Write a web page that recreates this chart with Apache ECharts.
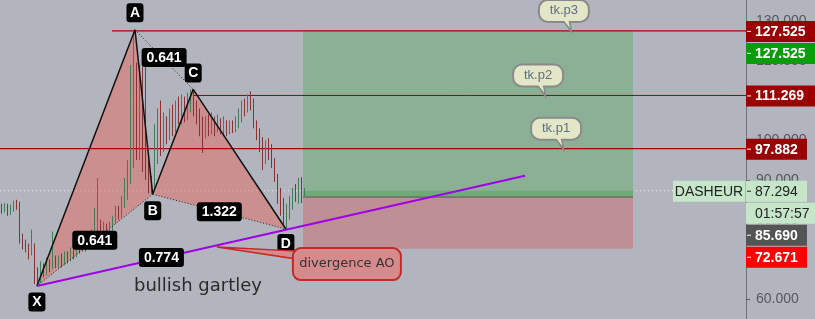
<!DOCTYPE html>
<html><head><meta charset="utf-8">
<script src="https://cdn.jsdelivr.net/npm/echarts@6/dist/echarts.min.js"></script>
<style>html,body{margin:0;padding:0;background:#b2b5be;}#c{width:815px;height:319px;}</style>
</head><body><div id="c"></div>
<script>
// ---------- DATA ----------
const opens  = [83,82.5,83.5,82,83,84,83.8,75.5,74.2,73,72,73.5,66,64.5,68,66.5,69,68,70,68.5,70,69,71,70,72,71,73,72.5,74,73,76,75,78,79,77,78,76.5,78,79.5,82,81,84,86,92,96,110,100,104,96,93,88,89,96,102,99,103,101,105,103,107,106,108,106,109,111,108,107,104,102,104,103,105,103.5,104.5,103,104,102.5,104,103,105,107,108.5,108,110,109,104,102,99,95,98,97,94,91,86,83,81,82,85,87,86,88,86.5];
const closes = [82.5,83.5,82,83,84,83.2,75.5,74.2,73,72,73.5,66,64.5,68,66.5,69,68,70,68.5,70,69,71,70,72,71,73,72.5,74,73,76,75,78,79,77,78,76.5,78,79.5,82,81,84,86,92,96,110,100,104,96,93,88,89,96,102,99,103,101,105,103,107,106,108,106,109,111,108,107,104,102,104,103,105,103.5,104.5,103,104,102.5,104,103,105,107,108.5,108,110,109,104,102,99,95,98,97,94,91,86,83,81,82,85,87,86,88,86.5,87.294];
const lows   = [81.5,81.8,81,81.2,82,82.5,74,72.5,71.8,70,71,63.8,63.3,64,65.5,66,66.8,67.5,67.8,67.8,68,68.5,69,69.5,70,70.5,71.5,72,72,72.5,74,74.5,76,76,75.5,75.5,76,77,79,80,80.5,83,85,89,93,95,95,92,90,86.6,86.4,88,94,96,97,99,100,101,102,104,104,104.5,105,107,106,104,101,96.8,100.5,101,101.5,101,102,101.5,101.5,101,101.5,101.8,102,103,104.5,106,107,107.5,103,100,97,92.5,94,95,93,89.5,84,81,78.5,77.6,80,82.5,84.5,84,84.2,86];
const highs  = [84,84.2,84,83.8,84.8,85,84.5,76.5,75,74,77.5,74,68,69.5,69,70.5,70,77,71,71,71.5,72,72,73,73.5,74,74.5,75,75.5,77,77.5,83,90.5,80,79.5,79,79.5,81,83.5,83.5,86,90.5,95,118.9,127.8,119.5,119,118.5,119.7,95,91,104,108,110,107,106,108,109,110,111,111.5,111,112,112.8,112.4,110,108,106,106,106.5,107,106,106.5,105.5,106,105,105,105,106,108,110,110.5,111.5,112.3,110.5,105,103,100.8,100,100.5,99,95.5,91.5,88,85.5,84,86,88,89,90.5,90.7,88];

const pointNames  = ['X','A','B','C','D'];
const pointBar    = [11.8, 44.5, 50.4, 63.9, 94.8];
const pointPrice  = [63.3, 127.8, 86.4, 112.8, 77.65];
const ratioText   = ['0.641','0.641','1.322','0.774'];   // XB, AC, BD, XD
const ratioPairs  = [[0,2],[1,3],[2,4],[0,4]];
const trendEnd    = [174.5, 91.07];

const levelPrices = [127.525, 111.269, 97.882];
const levelStart  = [36.8, 63.9, -0.5];
const lastPrice   = 87.294;
const entryPrice  = 85.690;
const stopPrice   = 72.671;
const targetPrice = 127.525;
const boxBars     = [100.5, 210.5];

const bubbleText  = ['tk.p3','tk.p2','tk.p1'];
const bubbleBar   = [189.8, 181.2, 187.2];
const bubblePrice = [127.525, 111.269, 97.882];

const noteText    = 'divergence AO';
const noteAnchor  = [71.8, 73.1];
const titleText   = 'bullish gartley';
const titleAt     = [65.5, 63.2];

const symbolName  = 'DASHEUR';
const countdown   = '01:57:57';
const tagValues   = [127.525, 127.525, 111.269, 97.882, 87.294, null, 85.690, 72.671];
const tagTexts    = ['127.525','127.525','111.269','97.882','87.294',countdown,'85.690','72.671'];

// ---------- CHART ----------
const chart = echarts.init(document.getElementById('c'), null, {renderer:'canvas'});
const candleData = opens.map((o,i)=>[i, o, closes[i], lows[i], highs[i]]);
const xMax = 746/3 - 0.5;

const rects = [
  [boxBars[0], boxBars[1], entryPrice, targetPrice],
  [boxBars[0], boxBars[1], stopPrice, entryPrice],
  [boxBars[0], boxBars[1], entryPrice, lastPrice]
];
const rectColors = ['#8bb095','#bf8f96','#6fab76'];

const triangles = [[0,1,2],[2,3,4]];

function lineSeries(data, color, width, type, z){
  return {type:'line', data, symbol:'none', silent:true, animation:false, z,
    lineStyle:{color, width, type: type||'solid'}};
}

const series = [
  lineSeries([[-0.5,lastPrice],[xMax,lastPrice]], '#f2f2f2', 1, [1,3], 1),
  {type:'custom', z:2, silent:true, animation:false, data:rects, encode:{x:[0,1], y:[2,3]},
    renderItem:(p,api)=>{
      const a = api.coord([api.value(0), api.value(3)]);
      const b = api.coord([api.value(1), api.value(2)]);
      return {type:'rect', shape:{x:a[0], y:a[1], width:b[0]-a[0], height:b[1]-a[1]}, style:{fill:rectColors[p.dataIndex]}};
    }},
  lineSeries([[boxBars[0],entryPrice],[boxBars[1],entryPrice]], '#5a5a5a', 1, 'solid', 3),
  lineSeries([[levelStart[0],levelPrices[0]],[xMax,levelPrices[0]]], '#b00000', 1.3, 'solid', 3),
  lineSeries([[levelStart[1],levelPrices[1]],[xMax,levelPrices[1]]], '#7a1010', 1, 'solid', 3),
  lineSeries([[levelStart[2],levelPrices[2]],[xMax,levelPrices[2]]], '#b00000', 1.3, 'solid', 3),
  {type:'custom', z:3, silent:true, animation:false, data:triangles,
    renderItem:(p,api)=>{
      const t = triangles[p.dataIndex];
      const pts = t.map(k=>api.coord([pointBar[k], pointPrice[k]]));
      return {type:'polygon', shape:{points:pts}, style:{fill:'rgba(226,112,104,0.55)'}};
    }},
  {type:'candlestick', z:4, animation:false, silent:true, data:candleData, encode:{x:0, y:[1,2,3,4]},
    barWidth:1.4,
    itemStyle:{color:'#1f7a45', color0:'#8e1c1c', borderColor:'#3f7d55', borderColor0:'#8a3030', borderWidth:1}},
  lineSeries(pointBar.map((b,i)=>[b,pointPrice[i]]), '#111', 1.5, 'solid', 5),
  lineSeries([[pointBar[0],pointPrice[0]],[pointBar[2],pointPrice[2]]], '#222', 1, [1,2], 5),
  lineSeries([[pointBar[1],pointPrice[1]],[pointBar[3],pointPrice[3]]], '#222', 1, [1,2], 5),
  lineSeries([[pointBar[2],pointPrice[2]],[pointBar[4],pointPrice[4]]], '#222', 1, [1,2], 5),
  lineSeries([[pointBar[0],pointPrice[0]], trendEnd], '#9f00e8', 2, 'solid', 6)
];

chart.setOption({
  backgroundColor:'#b2b5be',
  animation:false,
  grid:{left:0, right:69, top:0, bottom:0},
  xAxis:{type:'value', min:-0.5, max:xMax, show:false},
  yAxis:{type:'value', position:'right', min:55, max:135.3, splitNumber:8,
    splitLine:{show:false},
    axisLine:{show:true, onZero:false, lineStyle:{color:'#6f7279', width:1}},
    axisTick:{show:true, length:4, lineStyle:{color:'#555'}},
    axisLabel:{color:'#55585f', fontSize:14, fontFamily:'Liberation Sans', margin:10,
      showMinLabel:false, showMaxLabel:false, formatter:v=>v.toFixed(3)}},
  series
});

// ---------- ANNOTATIONS (positions from the library's scales) ----------
const P = (x,y)=>chart.convertToPixel({gridIndex:0},[x,y]);
const g = [];
function box(cx, cy, w, h, fill, r, stroke, lw, z){
  g.push({type:'rect', z:z||100, shape:{x:cx-w/2, y:cy-h/2, width:w, height:h, r:r||0},
    style:{fill, stroke:stroke||null, lineWidth:lw||0}});
}
function txt(cx, cy, text, font, fill, align, z){
  g.push({type:'text', z:z||101, x:cx, y:cy, style:{text, font, fill,
    align:align||'center', verticalAlign:'middle', textAlign:align||'center', textVerticalAlign:'middle'}});
}
const boldF = 'bold 14px "Liberation Sans"';
// letter labels
const letterDy = [16, -17, 16.5, -16.5, 14.5];
pointNames.forEach((n,i)=>{
  const p = P(pointBar[i], pointPrice[i]);
  box(p[0], p[1]+letterDy[i], 17, 19, '#000', 3);
  txt(p[0], p[1]+letterDy[i]+0.5, n, boldF, '#fff');
});
// ratio labels
ratioPairs.forEach((pr,i)=>{
  const a = P(pointBar[pr[0]], pointPrice[pr[0]]), b = P(pointBar[pr[1]], pointPrice[pr[1]]);
  const cx = (a[0]+b[0])/2, cy = (a[1]+b[1])/2 - (i===1?2:0);
  box(cx, cy, 45, 19, '#000', 3);
  txt(cx, cy+0.5, ratioText[i], boldF, '#fff');
});
// title
const tp = P(titleAt[0], titleAt[1]);
txt(tp[0], tp[1], titleText, '18px "DejaVu Sans"', '#2b2b2b');
// callout
const na = P(noteAnchor[0], noteAnchor[1]);
g.push({type:'polygon', z:100, shape:{points:[[na[0],na[1]],[na[0]+80,na[1]+4],[na[0]+80,na[1]+12]]},
  style:{fill:'#d58b8b', stroke:'#c62828', lineWidth:1.5}});
box(na[0]+130, na[1]+17, 108, 32, '#d58b8b', 8, '#c62828', 2);
txt(na[0]+130, na[1]+17, noteText, '13px "DejaVu Sans"', '#333');
// bubbles
bubbleText.forEach((t,i)=>{
  const tip = P(bubbleBar[i], bubblePrice[i]);
  const cx = tip[0]-7, cy = tip[1]-20;
  g.push({type:'polygon', z:100, shape:{points:[[tip[0]-10,cy+6],[tip[0]-2,cy+6],[tip[0],tip[1]]]},
    style:{fill:'#e4e7c7', stroke:'#8a8a8a', lineWidth:2}});
  box(cx, cy, 50, 22, '#e4e7c7', 9, '#8a8a8a', 2);
  g.push({type:'polygon', z:100, shape:{points:[[tip[0]-9,cy+7],[tip[0]-3,cy+7],[tip[0]-1,tip[1]-3]]},
    style:{fill:'#e4e7c7'}});
  txt(cx, cy, t, '13px "Liberation Sans"', '#5d6f84');
});
// price tags on the axis
const axisX = chart.getWidth() - 69;
const tagBg = ['#9b0000','#0a9d0a','#9b0000','#9b0000','#c6e6c9','#c6e6c9','#545454','#ff0000'];
const tagFg = ['#fff','#fff','#fff','#fff','#222','#222','#fff','#fff'];
const tagW  = [69,69,69,61,61,69,61,61];
const tagH = 22;
let prev = -1e9;
tagValues.forEach((v,i)=>{
  let cy = v==null ? prev + tagH : P(0, v)[1];
  if (cy < prev + tagH) cy = prev + tagH;
  prev = cy;
  g.push({type:'rect', z:102, shape:{x:axisX, y:cy-tagH/2+1, width:tagW[i], height:tagH-1}, style:{fill:tagBg[i]}});
  if (v!=null) g.push({type:'line', z:103, shape:{x1:axisX+1, y1:cy+0.5, x2:axisX+5, y2:cy+0.5}, style:{stroke:tagFg[i], lineWidth:1}});
  g.push({type:'text', z:103, x:axisX+9, y:cy+1, style:{text:tagTexts[i], font: (tagFg[i]==='#fff'?'bold ':'')+'14px "Liberation Sans"',
    fill:tagFg[i], align:'left', verticalAlign:'middle', textAlign:'left', textVerticalAlign:'middle'}});
  if (i===4){
    g.push({type:'rect', z:102, shape:{x:axisX-73, y:cy-tagH/2+1, width:72, height:tagH-1}, style:{fill:tagBg[i]}});
    txt(axisX-37, cy+1, symbolName, '14px "Liberation Sans"', '#222', 'center', 104);
  }
});
chart.setOption({graphic:{elements:g}});
</script></body></html>
